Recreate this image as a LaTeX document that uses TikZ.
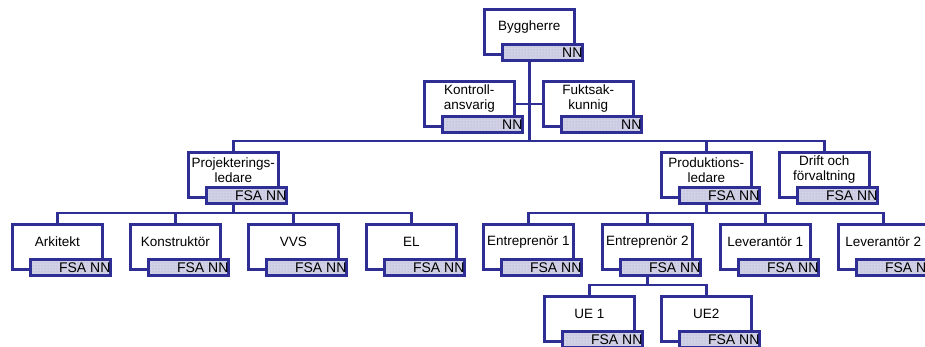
\documentclass[tikz,border=0pt]{standalone}
\usepackage{fontspec}
\setmainfont{Liberation Sans}
\usetikzlibrary{patterns}
\definecolor{navy}{RGB}{46,46,148}
\definecolor{tagfill}{RGB}{208,208,230}
\definecolor{tagdot}{RGB}{165,165,200}
\tikzset{
  mainbox/.style={draw=navy, line width=2.6pt, fill=white, minimum width=90pt, minimum height=45pt, inner sep=0pt, anchor=north west, line join=miter},
  tagbox/.style={draw=navy, line width=2.6pt, preaction={fill=tagfill}, pattern=dots, pattern color=tagdot, minimum width=80pt, minimum height=16pt, inner sep=0pt, anchor=north west},
  boxtext/.style={font=\fontsize{13.5}{15}\selectfont, align=center, inner sep=0pt},
  tagtext/.style={font=\fontsize{14}{15}\selectfont, inner sep=0pt, anchor=east},
  conn/.style={draw=navy, line width=2.4pt},
}
\newcommand\orgbox[5]{%
  \node[mainbox] (#1) at (#2,#3) {};
  \node[tagbox] (#1-tag) at ([xshift=18pt,yshift=-35pt]#1.north west) {};
  \node[tagtext] (#1-tagtxt) at ([xshift=-1pt]#1-tag.east) {#5};
  \node[boxtext] (#1-txt) at ([yshift=-19pt]#1.north) {#4};
}
\begin{document}
\begin{tikzpicture}[x=1pt,y=-1pt]
\useasboundingbox (0,0) rectangle (925,347);
\clip (0,0) rectangle (925,347);
\coordinate (bus2) at (0,141);
\coordinate (bus3) at (0,213);
\coordinate (bus4) at (0,285);

\orgbox{byg}{483}{8}{Byggherre}{NN}
\orgbox{kon}{423}{80}{Kontroll-\\ansvarig}{NN}
\orgbox{fuk}{542}{80}{Fuktsak-\\kunnig}{NN}
\orgbox{proj}{187}{151}{Projekterings-\\ledare}{FSA NN}
\orgbox{prod}{660}{151}{Produktions-\\ledare}{FSA NN}
\orgbox{drift}{778}{151}{Drift och\\förvaltning}{FSA NN}
\orgbox{ark}{11}{223}{Arkitekt}{FSA NN}
\orgbox{kons}{129}{223}{Konstruktör}{FSA NN}
\orgbox{vvs}{247}{223}{VVS}{FSA NN}
\orgbox{el}{365}{223}{EL}{FSA NN}
\orgbox{ent1}{482}{223}{Entreprenör 1}{FSA NN}
\orgbox{ent2}{601}{223}{Entreprenör 2}{FSA NN}
\orgbox{lev1}{719}{223}{Leverantör 1}{FSA NN}
\orgbox{lev2}{837}{223}{Leverantör 2}{FSA NN}
\orgbox{ue1}{543}{295}{UE 1}{FSA NN}
\orgbox{ue2}{660}{295}{UE2}{FSA NN}

\draw[conn] (byg-tag.south -| byg.south) -- (byg.south |- bus2);
\draw[conn] (kon.east) -- (fuk.west);
\draw[conn] (proj.north) -- (proj.north |- bus2) -- (drift.north |- bus2) -- (drift.north);
\draw[conn] (prod.north) -- (prod.north |- bus2);

\draw[conn] (proj-tag.south -| proj.south) -- (proj.south |- bus3);
\draw[conn] (ark.north) -- (ark.north |- bus3) -- (el.north |- bus3) -- (el.north);
\draw[conn] (kons.north) -- (kons.north |- bus3);
\draw[conn] (vvs.north) -- (vvs.north |- bus3);

\draw[conn] (prod-tag.south -| prod.south) -- (prod.south |- bus3);
\draw[conn] (ent1.north) -- (ent1.north |- bus3) -- (lev2.north |- bus3) -- (lev2.north);
\draw[conn] (ent2.north) -- (ent2.north |- bus3);
\draw[conn] (lev1.north) -- (lev1.north |- bus3);

\draw[conn] (ent2-tag.south -| ent2.south) -- (ent2.south |- bus4);
\draw[conn] (ue1.north) -- (ue1.north |- bus4) -- (ue2.north |- bus4) -- (ue2.north);
\end{tikzpicture}
\end{document}
